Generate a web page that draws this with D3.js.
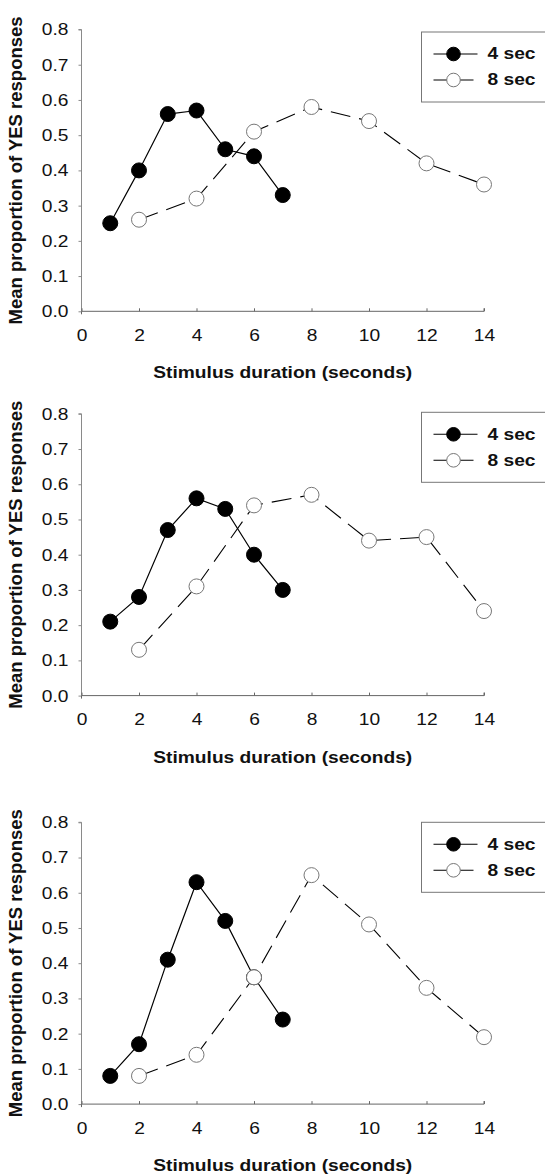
<!DOCTYPE html>
<html><head><meta charset="utf-8">
<script src="https://cdn.jsdelivr.net/npm/d3@7"></script>
<style>body{margin:0;background:#fff}svg{display:block}</style>
</head><body><svg id="c" width="545" height="1174"></svg>
<script>
const xTicks = [0, 2, 4, 6, 8, 10, 12, 14];
const yTicks = [0, 0.1, 0.2, 0.3, 0.4, 0.5, 0.6, 0.7, 0.8];
const seriesNames = ["4 sec", "8 sec"];
const xAxisTitle = "Stimulus duration (seconds)";
const yAxisTitle = "Mean proportion of YES responses";

const durations4 = [1, 2, 3, 4, 5, 6, 7];
const durations8 = [2, 4, 6, 8, 10, 12, 14];

const panel1_4sec = [0.25, 0.40, 0.56, 0.57, 0.46, 0.44, 0.33];
const panel1_8sec = [0.26, 0.32, 0.51, 0.58, 0.54, 0.42, 0.36];
const panel2_4sec = [0.21, 0.28, 0.47, 0.56, 0.53, 0.40, 0.30];
const panel2_8sec = [0.13, 0.31, 0.54, 0.57, 0.44, 0.45, 0.24];
const panel3_4sec = [0.08, 0.17, 0.41, 0.63, 0.52, 0.36, 0.24];
const panel3_8sec = [0.08, 0.14, 0.36, 0.65, 0.51, 0.33, 0.19];

const panels = [
  {top: 29.5, s4: panel1_4sec, s8: panel1_8sec, legDy: 2.5},
  {top: 413.8, s4: panel2_4sec, s8: panel2_8sec, legDy: -1.5},
  {top: 822.3, s4: panel3_4sec, s8: panel3_8sec, legDy: 0}
];

const svg = d3.select("#c");
const H = 281.8;
const x = d3.scaleLinear().domain([0, 14]).range([81.5, 484]);
const FONT = "'Liberation Sans', Arial, Helvetica, sans-serif";
const SX = 1.2; // horizontal stretch of text seen in the reference

panels.forEach(p => {
  const y = d3.scaleLinear().domain([0, 0.8]).range([p.top + H, p.top]);
  const g = svg.append("g");

  // y axis
  const ya = g.append("g").attr("transform", `translate(${x(0)},0)`)
    .call(d3.axisLeft(y).tickValues(yTicks).tickFormat(d3.format(".1f")).tickSize(3).tickPadding(0));
  ya.select(".domain").attr("stroke", "#8a8a8a").attr("d", `M-3,${y(0.8)}H0V${y(0)}`);
  ya.selectAll(".tick line").attr("stroke", "#8a8a8a");
  ya.selectAll(".tick text").attr("x", null).attr("dy", null)
    .attr("font-family", FONT).attr("font-size", 16).attr("fill", "#111")
    .attr("text-anchor", "end").attr("dominant-baseline", "central")
    .attr("transform", `translate(-13,0) scale(${SX},1)`);

  // x axis
  const xa = g.append("g").attr("transform", `translate(0,${y(0)})`)
    .call(d3.axisBottom(x).tickValues(xTicks).tickSizeInner(-3).tickSizeOuter(0).tickPadding(0));
  xa.select(".domain").attr("stroke", "#666").attr("d", `M${x(0)},3V0H${x(14)}V-3`);
  xa.selectAll(".tick line").attr("stroke", "#666");
  xa.selectAll(".tick text").attr("y", null).attr("dy", null)
    .attr("font-family", FONT).attr("font-size", 16).attr("fill", "#111")
    .attr("text-anchor", "middle")
    .attr("transform", `translate(0,29.5) scale(${SX},1)`);

  // axis titles
  g.append("text")
    .attr("transform", `translate(${(x(0) + x(14)) / 2},${y(0) + 67}) scale(${SX},1)`)
    .attr("text-anchor", "middle").attr("font-family", FONT).attr("font-weight", "bold")
    .attr("font-size", 16).attr("fill", "#111").text(xAxisTitle);
  g.append("text")
    .attr("transform", `translate(21.5,${(y(0) + y(0.8)) / 2}) rotate(-90)`)
    .attr("text-anchor", "middle").attr("font-family", FONT).attr("font-weight", "bold")
    .attr("font-size", 18.5).attr("fill", "#111").text(yAxisTitle);

  const line = d3.line().x(d => x(d[0])).y(d => y(d[1]));
  const d4 = durations4.map((d, i) => [d, p.s4[i]]);
  const d8 = durations8.map((d, i) => [d, p.s8[i]]);

  g.append("path").datum(d4).attr("d", line).attr("fill", "none")
    .attr("stroke", "#000").attr("stroke-width", 1.2);
  g.selectAll(".m4").data(d4).enter().append("circle")
    .attr("cx", d => x(d[0])).attr("cy", d => y(d[1])).attr("r", 7.5)
    .attr("fill", "#000").attr("stroke", "#000");

  g.append("path").datum(d8).attr("d", line).attr("fill", "none")
    .attr("stroke", "#000").attr("stroke-width", 1.1).attr("stroke-dasharray", "20,9");
  g.selectAll(".m8").data(d8).enter().append("circle")
    .attr("cx", d => x(d[0])).attr("cy", d => y(d[1])).attr("r", 7.5)
    .attr("fill", "#fff").attr("stroke", "#777").attr("stroke-width", 1);

  // legend
  const ly = p.top + p.legDy;
  const lg = g.append("g").attr("transform", `translate(421.5,${ly})`);
  lg.append("rect").attr("x", 0).attr("y", 0).attr("width", 140).attr("height", 70)
    .attr("fill", "#fff").attr("stroke", "#777").attr("stroke-width", 1);
  const rows = [{name: seriesNames[0], yy: 22, fill: "#000", stroke: "#000", dash: null},
                {name: seriesNames[1], yy: 48, fill: "#fff", stroke: "#777", dash: "14,4,8,0"}];
  rows.forEach(r => {
    lg.append("line").attr("x1", 12).attr("x2", 56).attr("y1", r.yy).attr("y2", r.yy)
      .attr("stroke", "#000").attr("stroke-width", 1.1)
      .attr("stroke-dasharray", r.dash);
    lg.append("circle").attr("cx", 32).attr("cy", r.yy).attr("r", 6.8)
      .attr("fill", r.fill).attr("stroke", r.stroke);
    lg.append("text").attr("transform", `translate(66,${r.yy}) scale(${SX},1)`)
      .attr("dominant-baseline", "central")
      .attr("font-family", FONT).attr("font-weight", "bold").attr("font-size", 16)
      .attr("fill", "#111").text(r.name);
  });
});
</script></body></html>
